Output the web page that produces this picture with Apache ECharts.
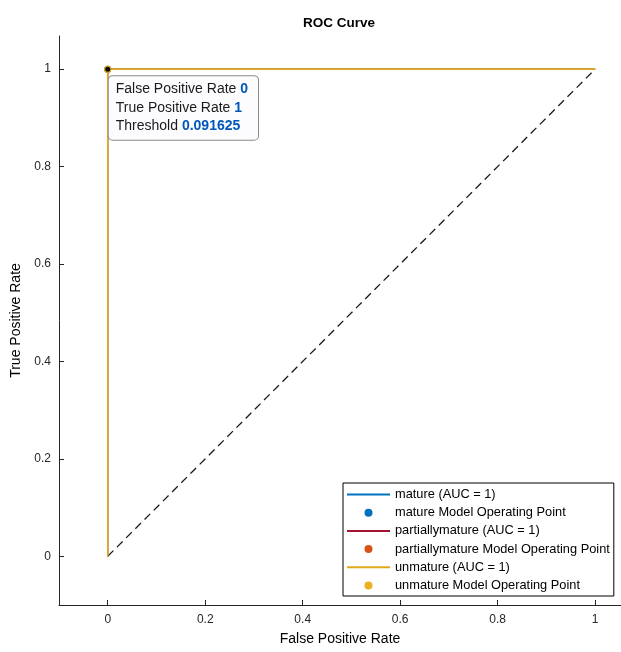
<!DOCTYPE html>
<html>
<head>
<meta charset="utf-8">
<script src="https://cdn.jsdelivr.net/npm/echarts@6/dist/echarts.min.js"></script>
<style>html,body{margin:0;padding:0;background:#fff}#c{width:621px;height:652px}</style>
</head>
<body>
<div id="c"></div>
<script>
// ROC data (identical curves for all three classes)
const classNames = ['mature', 'partiallymature', 'unmature'];
const aucValues = [1, 1, 1];
const fprMature = [0, 0, 1];
const tprMature = [0, 1, 1];
const fprPartial = [0, 0, 1];
const tprPartial = [0, 1, 1];
const fprUnmature = [0, 0, 1];
const tprUnmature = [0, 1, 1];
const opFpr = [0, 0, 0];
const opTpr = [1, 1, 1];
const diagX = [0, 1];
const diagY = [0, 1];
const tipFpr = 0;
const tipTpr = 1;
const tipThreshold = '0.091625';
const xTicks = [0, 0.2, 0.4, 0.6, 0.8, 1];
const yTicks = [0, 0.2, 0.4, 0.6, 0.8, 1];

const lineColors = ['#0072BD', '#A2142F', '#E0A81E'];
const lineWidths = [1, 1, 1.6];
const dotColors = ['#0072BD', '#D95319', '#EDB120'];
const font = '"Liberation Sans", Arial, Helvetica, sans-serif';

const curves = [[fprMature, tprMature], [fprPartial, tprPartial], [fprUnmature, tprUnmature]];
const zip = (a, b) => a.map((v, i) => [v, b[i]]);

const series = [];
series.push({
  type: 'line', name: 'diag', data: zip(diagX, diagY), symbol: 'none', silent: true,
  lineStyle: { color: '#1a1a1a', width: 1.3, type: [8, 5] }, z: 1
});
const legendData = [];
classNames.forEach((n, i) => {
  const ln = n + ' (AUC = ' + aucValues[i] + ')';
  const pn = n + ' Model Operating Point';
  legendData.push({ name: ln, itemStyle: { opacity: 0 } }, { name: pn });
  series.push({
    type: 'line', name: ln, data: zip(curves[i][0], curves[i][1]), symbol: 'none',
    lineStyle: { color: lineColors[i], width: lineWidths[i] }, itemStyle: { color: lineColors[i] }, z: 2 + i
  });
  series.push({
    type: 'scatter', name: pn, data: [[opFpr[i], opTpr[i]]], symbol: 'circle', symbolSize: 7,
    itemStyle: { color: dotColors[i], opacity: 1 }, z: 5 + i
  });
});
series.push({
  type: 'scatter', name: 'tip', data: [[tipFpr, tipTpr]], symbol: 'circle', symbolSize: 5,
  itemStyle: { color: '#000', opacity: 1 }, z: 10,
  label: {
    show: true, position: [3.5, 9.5], align: 'left', verticalAlign: 'top',
    backgroundColor: '#fcfcff', borderColor: '#8a8a8a', borderWidth: 1, borderRadius: 4,
    padding: [4, 10, 4, 7], fontFamily: font, fontSize: 14, color: '#1a1a1a', lineHeight: 18.5,
    formatter: () => 'False Positive Rate {v|' + tipFpr + '}\nTrue Positive Rate {v|' + tipTpr + '}\nThreshold {v|' + tipThreshold + '}',
    rich: { v: { color: '#0058b8', fontWeight: 'bold', fontFamily: font, fontSize: 14, lineHeight: 18.5 } }
  }
});

const axisCommon = {
  type: 'value', splitLine: { show: false },
  axisLine: { show: true, onZero: false, lineStyle: { color: '#262626', width: 1 } },
  axisTick: { show: true, inside: true, length: 5, lineStyle: { color: '#262626' } },
  axisLabel: { color: '#262626', fontFamily: font, fontSize: 12 },
  nameLocation: 'middle', nameTextStyle: { color: '#000', fontFamily: font, fontSize: 14 }
};

const chart = echarts.init(document.getElementById('c'), null, { renderer: 'canvas' });
chart.setOption({
  animation: false,
  backgroundColor: '#fff',
  title: { text: 'ROC Curve', left: 298, top: 11, textStyle: { fontFamily: font, fontSize: 13.5, fontWeight: 'bold', color: '#000' } },
  grid: { left: 59, right: 0, top: 36, bottom: 47, containLabel: false, outerBoundsMode: 'none' },
  xAxis: Object.assign({}, axisCommon, {
    min: -0.1, max: 1.053, name: 'False Positive Rate', nameGap: 27,
    axisLabel: Object.assign({}, axisCommon.axisLabel, { margin: 9, customValues: xTicks, formatter: v => String(v) }),
    axisTick: Object.assign({}, axisCommon.axisTick, { customValues: xTicks })
  }),
  yAxis: Object.assign({}, axisCommon, {
    min: -0.1, max: 1.068, name: 'True Positive Rate', nameGap: 33,
    axisLabel: Object.assign({}, axisCommon.axisLabel, { margin: 8, customValues: yTicks, formatter: v => String(v) }),
    axisTick: Object.assign({}, axisCommon.axisTick, { customValues: yTicks })
  }),
  legend: {
    data: legendData, orient: 'vertical', left: 343, top: 483,
    backgroundColor: '#fff', borderColor: '#000', borderWidth: 1, borderRadius: 0,
    padding: [5, 4, 4, 3], itemWidth: 43, itemHeight: 8, itemGap: 5.2,
    textStyle: { fontFamily: font, fontSize: 12.8, color: '#000' },
    selectedMode: false
  },
  series: series
});
</script>
</body>
</html>
